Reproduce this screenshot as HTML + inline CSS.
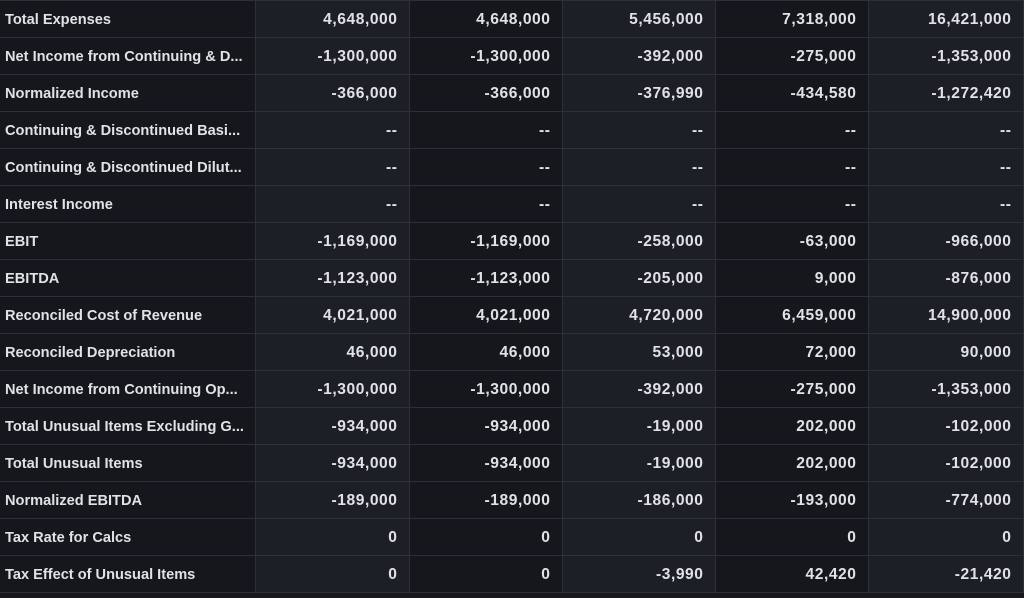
<!DOCTYPE html>
<html><head><style>
body{margin:0;background:#16181d;width:1024px;height:598px;overflow:hidden}
table{border-collapse:collapse;position:absolute;left:0;top:0;table-layout:fixed;width:1023px}
td{height:35px;border:1px solid #2c3038;padding:1px 12px 0 5px;font:bold 14.6px "Liberation Sans",sans-serif;color:#e0e2e6;white-space:nowrap;overflow:hidden}
td:not(:first-child){text-align:right;font-size:15.6px;letter-spacing:0.55px;padding-right:11px}
td:nth-child(odd){background:#15171c}
td:nth-child(even){background:#1c1f26}
td:first-child{border-left:none}
</style></head><body>
<table>
<colgroup><col style="width:255px"><col style="width:154px"><col style="width:153px"><col style="width:153px"><col style="width:153px"><col style="width:155px"></colgroup>
<tr><td>Total Expenses</td><td>4,648,000</td><td>4,648,000</td><td>5,456,000</td><td>7,318,000</td><td>16,421,000</td></tr>
<tr><td>Net Income from Continuing &amp; D...</td><td>-1,300,000</td><td>-1,300,000</td><td>-392,000</td><td>-275,000</td><td>-1,353,000</td></tr>
<tr><td>Normalized Income</td><td>-366,000</td><td>-366,000</td><td>-376,990</td><td>-434,580</td><td>-1,272,420</td></tr>
<tr><td>Continuing &amp; Discontinued Basi...</td><td>--</td><td>--</td><td>--</td><td>--</td><td>--</td></tr>
<tr><td>Continuing &amp; Discontinued Dilut...</td><td>--</td><td>--</td><td>--</td><td>--</td><td>--</td></tr>
<tr><td>Interest Income</td><td>--</td><td>--</td><td>--</td><td>--</td><td>--</td></tr>
<tr><td>EBIT</td><td>-1,169,000</td><td>-1,169,000</td><td>-258,000</td><td>-63,000</td><td>-966,000</td></tr>
<tr><td>EBITDA</td><td>-1,123,000</td><td>-1,123,000</td><td>-205,000</td><td>9,000</td><td>-876,000</td></tr>
<tr><td>Reconciled Cost of Revenue</td><td>4,021,000</td><td>4,021,000</td><td>4,720,000</td><td>6,459,000</td><td>14,900,000</td></tr>
<tr><td>Reconciled Depreciation</td><td>46,000</td><td>46,000</td><td>53,000</td><td>72,000</td><td>90,000</td></tr>
<tr><td>Net Income from Continuing Op...</td><td>-1,300,000</td><td>-1,300,000</td><td>-392,000</td><td>-275,000</td><td>-1,353,000</td></tr>
<tr><td>Total Unusual Items Excluding G...</td><td>-934,000</td><td>-934,000</td><td>-19,000</td><td>202,000</td><td>-102,000</td></tr>
<tr><td>Total Unusual Items</td><td>-934,000</td><td>-934,000</td><td>-19,000</td><td>202,000</td><td>-102,000</td></tr>
<tr><td>Normalized EBITDA</td><td>-189,000</td><td>-189,000</td><td>-186,000</td><td>-193,000</td><td>-774,000</td></tr>
<tr><td>Tax Rate for Calcs</td><td>0</td><td>0</td><td>0</td><td>0</td><td>0</td></tr>
<tr><td>Tax Effect of Unusual Items</td><td>0</td><td>0</td><td>-3,990</td><td>42,420</td><td>-21,420</td></tr>
</table>
</body></html>
